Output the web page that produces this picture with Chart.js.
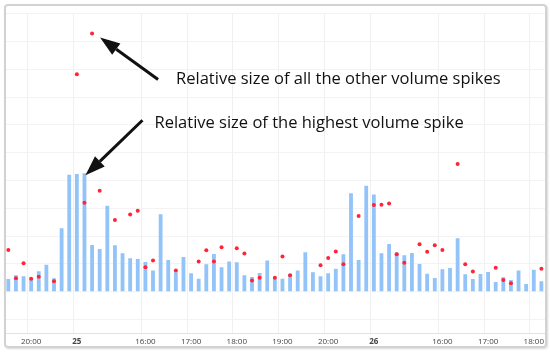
<!DOCTYPE html>
<html>
<head>
<meta charset="utf-8">
<script src="https://cdn.jsdelivr.net/npm/chart.js@4"></script>
<style>
  body { margin: 0; background: #fff; }
  #wrap { position: relative; width: 550px; height: 354px; }
  #frame {
    position: absolute; left: 4px; top: 4px; width: 539px; height: 340px;
    border: 2px solid #d2d2d2; border-radius: 4px;
    box-shadow: 1px 1px 2px rgba(0,0,0,0.15);
    pointer-events: none;
  }
</style>
</head>
<body>
<div id="wrap">
  <canvas id="volChart" width="550" height="354"></canvas>
  <div id="frame"></div>
</div>
<script>
// volume per 10-minute bar
const volume = [
  4.6, 5.9, 5.6, 4.8, 7.4, 9.7, 4.8, 22.8, 42.1, 42.3,
  42.6, 16.8, 15.4, 30.9, 16.7, 13.8, 12.0, 11.8, 10.7, 7.6,
  27.9, 11.4, 7.0, 12.5, 6.6, 4.7, 9.9, 13.6, 8.8, 10.9,
  10.6, 5.9, 5.3, 6.7, 11.2, 4.9, 4.7, 6.4, 7.6, 14.2,
  7.0, 5.6, 6.6, 8.3, 13.5, 35.4, 11.4, 38.1, 35.0, 13.8,
  17.2, 14.2, 13.1, 13.9, 10.0, 6.5, 4.9, 8.1, 8.5, 19.2,
  6.3, 4.6, 6.4, 7.1, 3.5, 5.2, 4.2, 7.6, 2.8, 7.9,
  3.8
];

// relative spike size (red dots), null where there is none
const spikes = [
  15.0, 4.8, 10.2, 4.7, 5.4, null, 3.8, null, null, 78.2,
  32.0, 92.9, 36.3, null, 25.8, null, 27.8, 29.1, 8.8, 11.2,
  null, null, 7.6, null, null, 10.9, 14.9, 10.9, 16.0, null,
  15.6, 13.7, 4.0, 5.0, null, 5.0, 12.7, 5.9, null, null,
  null, 9.5, 12.1, 14.5, 9.9, null, 27.2, null, 31.2, 31.3,
  31.7, 13.5, 10.4, null, 17.1, 14.4, 16.7, 15.0, null, 45.9,
  9.9, 7.3, null, null, 8.6, 4.2, 3.0, null, null, null,
  8.3
];

// x-axis labels and the bar they sit under
const tickIndex = [3, 9, 18, 24, 30, 36, 42, 48, 57, 63, 69];
const tickText = ["20:00", "25", "16:00", "17:00", "18:00", "19:00", "20:00", "26", "16:00", "17:00", "18:00"];

const notes = [
  { text: "Relative size of all the other volume spikes", index: 11 },
  { text: "Relative size of the highest volume spike", index: 10 }
];

const labels = volume.map((v, i) => {
  const k = tickIndex.indexOf(i);
  return k >= 0 ? tickText[k] : "";
});
const dayLabels = ["25", "26"];

// arrows + captions
const notePlugin = {
  id: "notes",
  afterDatasetsDraw(chart) {
    const c = chart.ctx;
    const x = chart.scales.x, y = chart.scales.y;
    c.save();
    c.fillStyle = "#111";
    c.strokeStyle = "#111";
    c.font = "16.5px 'Open Sans'";
    c.textBaseline = "middle";

    // note 0: points at the tall dot, from lower right
    let n = notes[0];
    let px = x.getPixelForValue(n.index), py = y.getPixelForValue(spikes[n.index]);
    drawArrow(c, px + 66, py + 46, px + 8, py + 4);
    c.fillText(n.text, px + 84, py + 46);

    // note 1: points at the tallest bar, from upper right
    n = notes[1];
    px = x.getPixelForValue(n.index); py = y.getPixelForValue(volume[n.index]);
    drawArrow(c, px + 58, py - 53, px + 1, py + 2);
    c.fillText(n.text, px + 70, py - 50);
    c.restore();
  }
};

function drawArrow(c, x0, y0, x1, y1) {
  const a = Math.atan2(y1 - y0, x1 - x0);
  const len = 20, half = 7;
  const bx = x1 - len * Math.cos(a), by = y1 - len * Math.sin(a);
  c.lineWidth = 3;
  c.beginPath();
  c.moveTo(x0, y0);
  c.lineTo(bx, by);
  c.stroke();
  c.beginPath();
  c.moveTo(x1, y1);
  c.lineTo(bx + half * Math.sin(a), by - half * Math.cos(a));
  c.lineTo(bx - half * Math.sin(a), by + half * Math.cos(a));
  c.closePath();
  c.fill();
}

new Chart(document.getElementById("volChart"), {
  type: "bar",
  data: {
    labels,
    datasets: [
      {
        label: "Volume",
        data: volume,
        backgroundColor: "#92c3f9",
        barPercentage: 0.5,
        categoryPercentage: 1,
        order: 2
      },
      {
        type: "line",
        label: "Spike",
        data: spikes,
        showLine: false,
        pointRadius: 2,
        pointBackgroundColor: "#ff2438",
        pointBorderWidth: 0,
        order: 1
      }
    ]
  },
  options: {
    responsive: false,
    animation: false,
    layout: { padding: { left: 4.5, right: 4.8, top: 13.7, bottom: 3 } },
    plugins: { legend: { display: false }, tooltip: { enabled: false } },
    scales: {
      x: {
        grid: {
          drawTicks: false,
          color: ctx => (ctx.tick && ctx.tick.label) ? "#f0f0f0" : "rgba(0,0,0,0)"
        },
        border: { color: "#e2e2e2" },
        ticks: {
          autoSkip: false,
          maxRotation: 0,
          padding: 4,
          color: "#444",
          font: ctx => ({
            family: "'Open Sans'",
            size: 8,
            weight: dayLabels.includes(ctx.tick && ctx.tick.label) ? "bold" : "normal"
          })
        }
      },
      y: {
        min: -15,
        max: 100,
        ticks: { display: false, stepSize: 10 },
        grid: { drawTicks: false, color: "#f3f3f3" },
        border: { display: false }
      }
    }
  },
  plugins: [notePlugin]
});
</script>
</body>
</html>
